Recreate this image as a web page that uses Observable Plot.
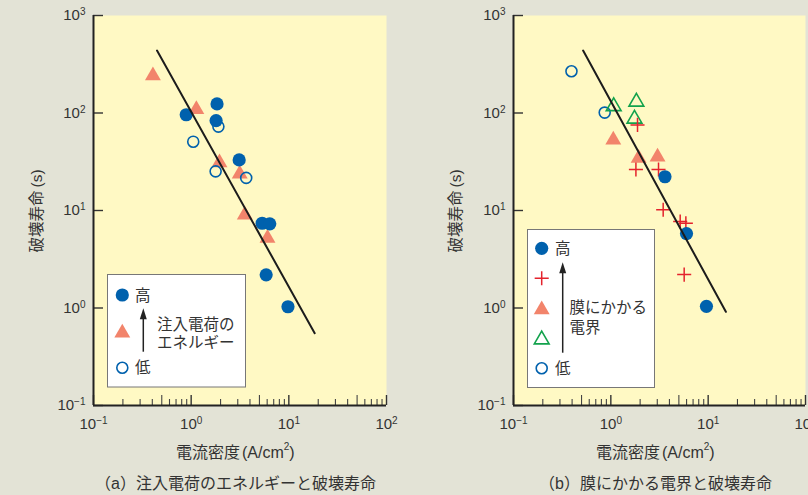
<!DOCTYPE html>
<html><head><meta charset="utf-8">
<script src="https://cdn.jsdelivr.net/npm/d3@7"></script>
<script src="https://cdn.jsdelivr.net/npm/@observablehq/plot@0.6"></script>
<style>
html,body{margin:0;padding:0;background:#e3e3d6;overflow:hidden}
#wrap{position:relative;width:808px;height:495px;overflow:hidden;background:#e3e3d6}
#pa,#pb{position:absolute;top:0}
#pa{left:0}
#pb{left:404px}
#ov{position:absolute;left:0;top:0}
</style></head><body>
<div id="wrap"><div id="pa"></div><div id="pb"></div><svg id="ov" width="808" height="495" xmlns="http://www.w3.org/2000/svg"></svg></div>
<script>
// ---- tick values ----
const xTicks = [0.1, 1, 10, 100];
const xTicksMid = [0.5, 5, 50];
const xTicksMinor = [0.2,0.3,0.4,0.6,0.7,0.8,0.9,2,3,4,6,7,8,9,20,30,40,60,70,80,90];
const yTicks = [0.1, 1, 10, 100, 1000];

// ---- panel (a) data ----
const aHighX = [0.89, 1.84, 1.80, 3.1, 5.33, 6.38, 5.86, 9.8];
const aHighY = [96, 124, 83.6, 33, 7.4, 7.3, 2.19, 1.03];
const aMidX  = [0.406, 1.13, 1.95, 3.14, 3.54, 6.05];
const aMidY  = [242, 109, 31, 23.7, 9.0, 5.2];
const aLowX  = [1.05, 1.9, 1.78, 3.66];
const aLowY  = [50.8, 72.5, 25.2, 21.6];
const aFitX  = [0.447, 18.4];
const aFitY  = [437, 0.552];

// ---- panel (b) data ----
const bHighX = [3.6, 5.99, 9.6];
const bHighY = [22.2, 5.8, 1.04];
const bPlusX = [1.88, 1.81, 3.09, 3.45, 5.16, 5.9, 5.67];
const bPlusY = [75.5, 26.3, 26.3, 10.2, 7.7, 7.4, 2.2];
const bTriX  = [1.06, 1.93, 3.02];
const bTriY  = [53, 34.5, 35.4];
const bOTriX = [1.07, 1.83, 1.75];
const bOTriY = [117, 130, 87];
const bLowX  = [0.394, 0.865];
const bLowY  = [268, 101];
const bFitX  = [0.519, 15.2];
const bFitY  = [437, 0.914];

// ---- texts ----
const yLabel = "破壊寿命";
const yUnit = "(s)";
const xLabel = "電流密度";
const captionA = "（a）注入電荷のエネルギーと破壊寿命";
const captionB = "（b）膜にかかる電界と破壊寿命";
const legA = {high: "高", low: "低", lines: ["注入電荷の", "エネルギー"]};
const legB = {high: "高", low: "低", lines: ["膜にかかる", "電界"]};

const BLUE = "#0061ad", SALMON = "#f2846b", GREEN = "#12a24c", RED = "#e4232d";
const YELLOW = "#fff9c4", INK = "#333";
const LATIN = "'Liberation Sans', 'Noto Sans CJK JP', sans-serif";
const NS = "http://www.w3.org/2000/svg";

const pts = (xs, ys) => xs.map((x, i) => ({x, y: ys[i]}));
const expFmt = d => "10^" + Math.round(Math.log10(d));

function supify(svg) {
  svg.querySelectorAll("text").forEach(t => {
    const m = /^10\^(.+)$/.exec(t.textContent);
    if (!m) return;
    t.textContent = "";
    const b = document.createElementNS(NS, "tspan"); b.textContent = "10"; t.appendChild(b);
    const s = document.createElementNS(NS, "tspan");
    s.textContent = m[1].replace("-", "−");
    s.setAttribute("dy", "-5"); s.setAttribute("font-size", "10");
    t.appendChild(s);
  });
}

function panel(marginLeft, marginRight, dotMarks, fit) {
  const plotW = 404 - marginLeft - marginRight;
  const plotH = 390;
  const chart = Plot.plot({
    width: 404, height: 440,
    marginLeft, marginRight, marginTop: 15, marginBottom: 35,
    x: {type: "log", domain: [0.1, 100], label: null},
    y: {type: "log", domain: [0.1, 1000], label: null},
    style: {background: "transparent", fontFamily: LATIN, fontSize: "15px", color: INK, overflow: "visible"},
    marks: [
      Plot.frame({fill: YELLOW, stroke: "none"}),
      Plot.ruleX(xTicks, {stroke: "#333", strokeWidth: 1.4, insetTop: plotH - 10}),
      Plot.ruleX(xTicksMid, {stroke: "#444", strokeWidth: 1.1, insetTop: plotH - 10}),
      Plot.ruleX(xTicksMinor, {stroke: "#444", strokeWidth: 1.1, insetTop: plotH - 6}),
      Plot.ruleY(yTicks, {stroke: "#333", strokeWidth: 1.4, insetRight: plotW - 10}),
      Plot.axisX({ticks: xTicks, tickSize: 0, tickPadding: 13, tickFormat: expFmt, fontSize: 15}),
      Plot.axisY({ticks: yTicks, tickSize: 0, tickPadding: 8, tickFormat: expFmt, fontSize: 15}),
      Plot.ruleX([0.1], {stroke: "#222", strokeWidth: 2}),
      Plot.ruleY([0.1], {stroke: "#222", strokeWidth: 2}),
      ...dotMarks,
      Plot.line(fit, {x: "x", y: "y", stroke: "#1c1c1c", strokeWidth: 2})
    ]
  });
  supify(chart);
  return chart;
}

const filled = d => Plot.dot(d, {x: "x", y: "y", r: 6.6, fill: BLUE});
const open = d => Plot.dot(d, {x: "x", y: "y", r: 5.5, stroke: BLUE, strokeWidth: 1.6, fill: "none"});
const tri = d => Plot.dot(d, {x: "x", y: "y", symbol: "triangle", r: 5.9, fill: SALMON});
const otri = d => Plot.dot(d, {x: "x", y: "y", symbol: "triangle", r: 5.5, stroke: GREEN, strokeWidth: 1.6, fill: "none"});
const plus = d => Plot.dot(d, {x: "x", y: "y", symbol: "plus", r: 4.6, stroke: RED, strokeWidth: 1.5});

document.getElementById("pa").appendChild(panel(93, 18, [
  tri(pts(aMidX, aMidY)), open(pts(aLowX, aLowY)), filled(pts(aHighX, aHighY))
], pts(aFitX, aFitY)));

document.getElementById("pb").appendChild(panel(109, 3, [
  open(pts(bLowX, bLowY)), otri(pts(bOTriX, bOTriY)), tri(pts(bTriX, bTriY)),
  plus(pts(bPlusX, bPlusY)), filled(pts(bHighX, bHighY))
], pts(bFitX, bFitY)));

// ---- overlay: labels, captions, legends ----
const ov = d3.select("#ov");
function txt(x, y, s, size, anchor = "start") {
  return ov.append("text").attr("x", x).attr("y", y).attr("font-size", size)
    .attr("font-family", LATIN).attr("fill", INK).attr("dominant-baseline", "central")
    .attr("text-anchor", anchor).text(s);
}
function yLab(cx, cy) {
  const t = ov.append("text").attr("transform", `translate(${cx},${cy}) rotate(-90)`)
    .attr("font-size", 15.5).attr("font-family", LATIN).attr("fill", INK)
    .attr("dominant-baseline", "central").attr("text-anchor", "middle");
  t.append("tspan").text(yLabel);
  t.append("tspan").attr("dx", 3).text(yUnit);
}
function xLab(x, y) {
  const t = ov.append("text").attr("x", x).attr("y", y).attr("font-size", 16)
    .attr("font-family", LATIN).attr("fill", INK).attr("dominant-baseline", "central");
  t.append("tspan").text(xLabel);
  t.append("tspan").attr("dx", 2).text("(A/cm");
  t.append("tspan").attr("font-size", 10).attr("dy", -6).text("2");
  t.append("tspan").attr("dy", 6).text(")");
}
yLab(35.5, 211); yLab(455.2, 211);
xLab(176, 452); xLab(596, 452);
txt(95, 483, captionA, 16);
txt(539, 483, captionB, 16);

function symbolPath(type, r) { return d3.symbol(type, r * r * Math.PI)(); }
function legSym(kind, x, y) {
  const g = ov.append("path").attr("transform", `translate(${x},${y})`);
  if (kind === "filled") g.attr("d", symbolPath(d3.symbolCircle, 6.6)).attr("fill", BLUE);
  if (kind === "open") g.attr("d", symbolPath(d3.symbolCircle, 5.5)).attr("fill", "none").attr("stroke", BLUE).attr("stroke-width", 1.6);
  if (kind === "tri") g.attr("d", symbolPath(d3.symbolTriangle, 5.9)).attr("fill", SALMON);
  if (kind === "otri") g.attr("d", symbolPath(d3.symbolTriangle, 5.5)).attr("fill", "none").attr("stroke", GREEN).attr("stroke-width", 1.6);
  if (kind === "plus") g.attr("d", symbolPath(d3.symbolPlus, 4.6)).attr("fill", "none").attr("stroke", RED).attr("stroke-width", 1.5);
}
function arrow(x, bottom, tip) {
  ov.append("line").attr("x1", x).attr("x2", x).attr("y1", bottom).attr("y2", tip + 8)
    .attr("stroke", "#222").attr("stroke-width", 1.5);
  ov.append("path").attr("d", `M${x},${tip}L${x - 3.5},${tip + 11}L${x + 3.5},${tip + 11}Z`).attr("fill", "#222");
}
function box(x, y, w, h) {
  ov.append("rect").attr("x", x).attr("y", y).attr("width", w).attr("height", h)
    .attr("fill", "white").attr("stroke", "#777").attr("stroke-width", 1);
}

// legend (a)
box(107.5, 274.5, 138, 112.5);
legSym("filled", 122.3, 295);
legSym("tri", 122.3, 333);
legSym("open", 122.3, 367.7);
txt(135, 295, legA.high, 15.5);
txt(135, 367.7, legA.low, 15.5);
txt(157, 324, legA.lines[0], 15.5);
txt(157, 342.5, legA.lines[1], 15.5);
arrow(143.3, 351.7, 308.3);

// legend (b)
box(527.5, 229.5, 127, 158);
legSym("filled", 541.7, 248.3);
legSym("plus", 541.7, 278.3);
legSym("tri", 541.7, 309.6);
legSym("otri", 541.7, 339.6);
legSym("open", 541.7, 368.3);
txt(555, 248.3, legB.high, 15.5);
txt(555, 368.3, legB.low, 15.5);
txt(569.5, 307, legB.lines[0], 15.5);
txt(569.5, 327, legB.lines[1], 15.5);
arrow(562.7, 352.7, 262.3);
</script>
</body></html>
